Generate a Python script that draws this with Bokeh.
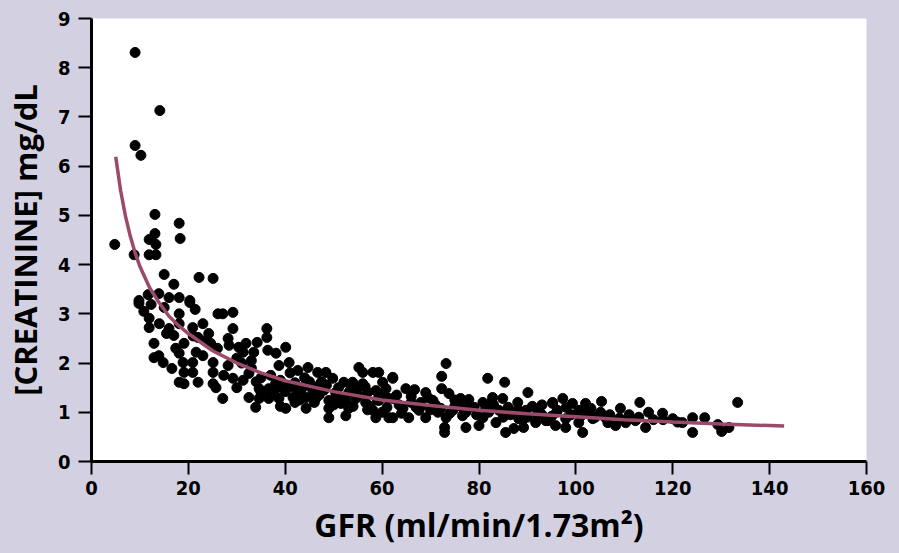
from bokeh.plotting import figure
from bokeh.models import Range1d, FixedTicker, ColumnDataSource
from bokeh.embed import file_html
from bokeh.resources import INLINE

# ---- data ----
gfr = [
    9.0, 14.1, 9.0, 10.2,
    13.1, 18.1, 4.8, 13.1, 11.9, 13.3, 18.3, 8.8, 11.9, 13.3, 15.0, 17.0, 22.2, 25.1, 11.7, 13.9, 9.8, 16.0, 18.1, 20.3,
    9.8, 12.3, 20.3, 10.8, 15.0, 21.4, 18.1, 26.1, 27.1, 29.2, 11.9, 11.9, 16.0, 18.1, 20.9, 23.0, 29.2, 17.0, 24.2, 22.0,
    28.2, 12.9, 19.1, 24.6, 17.4, 21.6, 23.0, 28.4, 30.4, 12.9, 13.9, 18.1, 14.8, 18.9, 20.9, 25.1, 28.2, 16.6, 19.1, 20.9,
    25.1, 27.3, 29.2, 18.1, 19.1, 22.0, 25.1, 25.7, 27.1,
    36.2, 36.2, 34.2, 31.9, 40.1, 38.1, 36.4, 33.5, 31.3, 40.8, 38.7, 42.6, 44.7, 46.7, 48.4, 55.2, 56.0, 58.1, 59.3, 49.8,
    52.1, 53.9, 56.0, 60.1, 62.2, 32.5, 31.3, 34.6, 36.6, 38.1, 39.7, 43.6, 45.7, 50.4, 53.1, 58.7, 60.8, 32.5, 34.6, 36.6,
    38.7, 41.6, 44.3, 46.3, 49.0, 52.5, 54.6, 56.6, 59.3, 33.9, 40.1, 44.3, 49.0, 53.1, 58.1, 49.0, 52.5, 58.7, 61.4,
    73.2, 62.2, 72.3, 81.8, 85.3, 72.3, 90.1, 64.9, 66.7, 69.0, 73.8, 76.2, 77.9, 80.8, 82.8, 84.9, 88.0, 95.2, 62.2, 70.5,
    64.3, 67.6, 72.1, 74.6, 77.3, 81.4, 84.1, 86.9, 89.7, 92.3, 62.2, 65.5, 69.0, 73.2, 76.6, 80.8, 83.5, 88.2, 91.7, 94.2,
    72.9, 72.9, 77.3, 80.0, 85.5, 87.2, 89.2,
    97.3, 95.2, 99.3, 102.0, 105.3, 113.2, 109.2, 115.0, 117.9, 103.1, 100.6, 105.1, 96.2, 93.8, 97.9, 100.6, 103.5, 106.6,
    108.2, 110.3, 112.3, 114.4, 120.0, 122.0, 124.1, 126.6, 124.1, 95.8, 97.9, 101.4,
    133.4, 129.3, 131.6, 130.1,
    63.5, 66.0, 68.0, 71.0, 75.0, 79.0, 83.0, 86.0, 91.0, 93.0, 96.0, 99.0, 101.0, 104.0, 107.0, 111.0,
    42.0, 44.0, 47.0, 48.0, 51.0, 55.0, 57.0, 59.0, 61.0, 43.0, 46.0, 50.0, 54.0, 57.0, 60.0,
    31.0, 33.0, 35.0, 37.0, 39.0, 41.0, 30.0, 35.0, 37.0, 40.0, 42.0, 30.0, 33.0, 45.0, 47.0, 52.0, 55.0, 63.0, 66.0, 68.0,
    70.0, 75.0, 78.0, 82.0, 85.0, 88.0, 90.0, 93.0, 98.0, 102.0, 106.0, 109.0, 113.0, 116.0, 118.0, 121.0,
    34.0, 38.0, 41.0, 43.0, 45.0, 47.5, 50.5, 53.5, 56.5, 59.5, 39.0, 42.5, 46.0, 48.5, 51.5, 54.0, 57.5, 61.0, 64.0, 67.0,
    69.5, 71.5, 74.0, 76.5, 79.5, 82.5, 86.5, 89.0, 92.0, 95.0, 26.0, 23.5, 21.0, 15.5, 14.0,
]
creatinine = [
    8.31, 7.13, 6.42, 6.22,
    5.02, 4.84, 4.41, 4.63, 4.51, 4.41, 4.53, 4.20, 4.20, 4.20, 3.80, 3.60, 3.74, 3.72, 3.39, 3.41, 3.27, 3.33, 3.33, 3.27,
    3.21, 3.19, 3.23, 3.05, 3.13, 3.09, 3.00, 3.00, 3.00, 3.03, 2.91, 2.72, 2.70, 2.80, 2.72, 2.80, 2.70, 2.56, 2.60, 2.52,
    2.50, 2.40, 2.40, 2.40, 2.30, 2.22, 2.15, 2.36, 2.32, 2.11, 2.15, 2.20, 2.01, 2.01, 2.01, 2.01, 1.95, 1.89, 1.81, 1.81,
    1.81, 1.75, 1.69, 1.61, 1.58, 1.61, 1.58, 1.50, 1.28,
    2.70, 2.52, 2.42, 2.40, 2.32, 2.20, 2.26, 2.22, 2.22, 2.01, 1.95, 1.85, 1.91, 1.81, 1.81, 1.91, 1.81, 1.81, 1.81, 1.69,
    1.61, 1.61, 1.58, 1.61, 1.69, 1.79, 1.65, 1.48, 1.48, 1.48, 1.54, 1.50, 1.44, 1.40, 1.40, 1.44, 1.48, 1.30, 1.28, 1.28,
    1.28, 1.30, 1.30, 1.28, 1.24, 1.24, 1.28, 1.20, 1.24, 1.10, 1.08, 1.08, 1.08, 1.08, 1.04, 0.89, 0.93, 0.89, 0.89,
    1.99, 1.71, 1.73, 1.69, 1.61, 1.48, 1.40, 1.48, 1.46, 1.40, 1.38, 1.28, 1.26, 1.20, 1.30, 1.28, 1.20, 1.20, 1.28, 1.24,
    1.08, 1.04, 1.08, 1.04, 1.00, 1.08, 1.04, 1.00, 1.04, 1.08, 0.89, 0.89, 0.89, 0.89, 0.93, 0.89, 0.79, 0.87, 0.79, 0.83,
    0.69, 0.59, 0.69, 0.73, 0.59, 0.67, 0.69,
    1.28, 1.18, 1.18, 1.18, 1.22, 1.20, 1.08, 1.00, 0.98, 1.08, 1.04, 1.00, 1.04, 0.83, 0.87, 0.79, 0.87, 0.79,
    0.73, 0.79, 0.83, 0.69, 0.87, 0.79, 0.89, 0.89, 0.59, 0.73, 0.69, 0.59,
    1.20, 0.75, 0.69, 0.61,
    1.15, 1.20, 1.12, 1.15, 1.12, 1.10, 1.15, 1.10, 1.12, 0.95, 1.00, 0.95, 0.92, 0.90, 0.95, 0.95,
    1.60, 1.70, 1.55, 1.45, 1.50, 1.35, 1.40, 1.25, 1.30, 1.38, 1.20, 1.15, 1.12, 1.05, 1.00,
    2.00, 1.90, 1.70, 1.75, 1.65, 1.80, 1.50, 1.40, 1.35, 1.42, 1.20, 2.10, 2.05, 1.62, 1.35, 1.30, 1.50, 1.35, 1.32, 1.20,
    1.05, 1.25, 1.15, 1.00, 0.90, 1.05, 0.90, 1.15, 1.10, 0.98, 0.90, 0.88, 0.90, 0.85, 0.85, 0.80,
    1.62, 1.58, 1.52, 1.25, 1.55, 1.62, 1.32, 1.45, 1.52, 1.35, 1.12, 1.45, 1.40, 1.55, 1.18, 1.50, 1.12, 1.10, 0.98, 1.10,
    1.30, 1.00, 0.98, 1.10, 0.95, 1.20, 0.95, 0.85, 0.95, 0.92, 2.30, 2.45, 2.55, 2.60, 2.80,
]

# fitted curve
fit_gfr = [5, 6, 7, 8, 9, 10, 12, 14, 16, 18, 20, 25, 30, 35, 40, 50, 60, 70, 80, 90, 100, 110, 120, 130, 143]
fit_creat = [6.19, 5.51, 4.99, 4.58, 4.24, 3.96, 3.53, 3.22, 2.95, 2.76, 2.60, 2.25, 2.00, 1.80, 1.64, 1.42, 1.25,
             1.14, 1.04, 0.97, 0.91, 0.85, 0.80, 0.76, 0.72]

x_ticks = [0, 20, 40, 60, 80, 100, 120, 140, 160]
y_ticks = [0, 1, 2, 3, 4, 5, 6, 7, 8, 9]

BG = "#d3d1e1"
CURVE = "#9b4a6c"
TICK_FONT = "Liberation Sans Narrow, DejaVu Sans Condensed, Roboto, sans-serif"
TITLE_FONT = "Open Sans"

# Bokeh's page template sets the body margin to 0, so the figure fills the window
p = figure(width=899, height=553, output_backend="svg", toolbar_location=None,
           x_range=Range1d(0, 160), y_range=Range1d(0, 9),
           min_border_left=91, min_border_right=33, min_border_top=18, min_border_bottom=92)
p.background_fill_color = "white"
p.border_fill_color = BG
p.outline_line_color = None
p.xgrid.visible = False
p.ygrid.visible = False

src = ColumnDataSource(dict(x=gfr, y=creatinine))
p.scatter("x", "y", source=src, size=10, color="black")
p.line(fit_gfr, fit_creat, line_width=3.5, color=CURVE)

for ax in (p.xaxis[0], p.yaxis[0]):
    ax.axis_line_width = 3
    ax.axis_line_color = "black"
    ax.major_tick_line_width = 2
    ax.major_tick_line_color = "black"
    ax.major_tick_out = 13
    ax.major_tick_in = 0
    ax.minor_tick_line_color = None
    ax.major_label_text_font = TICK_FONT
    ax.major_label_text_font_style = "bold"
    ax.major_label_text_font_size = "20px"
    ax.major_label_text_color = "black"
    ax.axis_label_text_font = TITLE_FONT
    ax.axis_label_text_font_style = "bold"
    ax.axis_label_text_font_size = "31px"
    ax.axis_label_text_color = "black"

p.xaxis.axis_label_text_font_size = "32px"
p.xaxis.ticker = FixedTicker(ticks=x_ticks)
p.yaxis.ticker = FixedTicker(ticks=y_ticks)
p.xaxis.axis_label = "GFR (ml/min/1.73m²)"
p.yaxis.axis_label = "[CREATININE] mg/dL"
p.xaxis.major_label_standoff = 6
p.yaxis.major_label_standoff = 8
p.xaxis.axis_label_standoff = 5
p.yaxis.axis_label_standoff = 9

html = file_html(p, INLINE)
html = html.replace("</head>", "<style>html, body { background-color: %s; }</style></head>" % BG, 1)
open("out.html", "w").write(html)
